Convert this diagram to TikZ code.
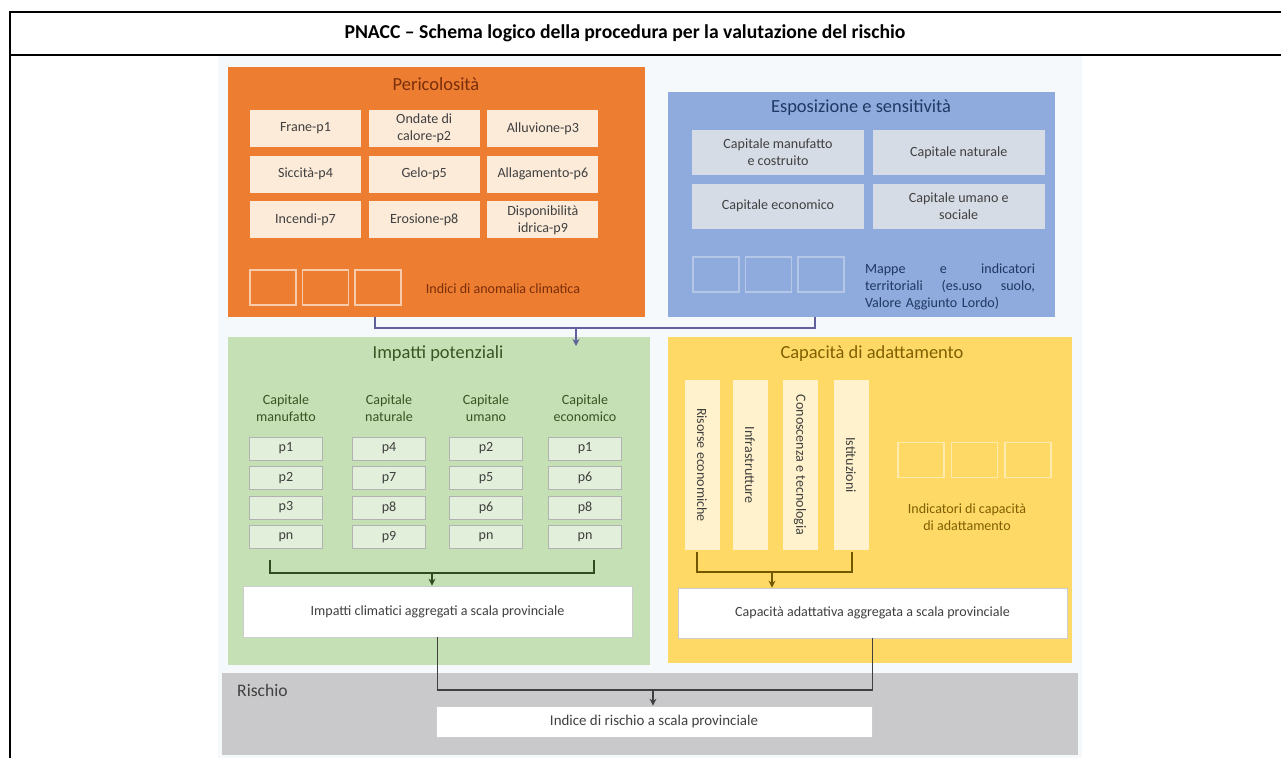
\documentclass[tikz,border=0pt]{standalone}
\usepackage{fontspec}
\setmainfont{Carlito}
\usetikzlibrary{arrows.meta,positioning,calc,fit}

\newcommand{\pxu}{0.02cm}
\definecolor{framebg}{HTML}{F5F9FC}
\definecolor{perfill}{HTML}{ED7D31}
\definecolor{percell}{HTML}{FCEBD9}
\definecolor{pertext}{HTML}{7A2E0B}
\definecolor{persq}{HTML}{F8CBAD}
\definecolor{espfill}{HTML}{8FAADC}
\definecolor{espcell}{HTML}{D6DCE6}
\definecolor{esptext}{HTML}{1F3864}
\definecolor{espsq}{HTML}{B4C7E7}
\definecolor{impfill}{HTML}{C5E0B4}
\definecolor{impcell}{HTML}{E2EFDA}
\definecolor{imptext}{HTML}{375623}
\definecolor{capfill}{HTML}{FFD966}
\definecolor{capcell}{HTML}{FFF2CC}
\definecolor{captext}{HTML}{7F6000}
\definecolor{rischfill}{HTML}{C9C9CB}
\definecolor{bodytext}{HTML}{404040}

\begin{document}
\begin{tikzpicture}[
  x=0.02cm, y=-0.02cm,
  >={Stealth[length=4pt,width=4pt]},
  panel/.style={inner sep=0pt, outer sep=0pt},
  ptitle/.style={font=\fontsize{10.5}{12}\selectfont},
  small/.style={font=\fontsize{8}{9.5}\selectfont, text=bodytext, align=center},
  percellbox/.style={small, fill=percell, inner sep=0pt, minimum width=111*\pxu, minimum height=37*\pxu},
  espcellbox/.style={small, fill=espcell, inner sep=0pt, minimum width=172*\pxu, minimum height=45*\pxu},
  pcell/.style={small, fill=impcell, draw=gray!60, inner sep=0pt, minimum width=73*\pxu, minimum height=23*\pxu},
  barbox/.style={small, fill=capcell, inner sep=0pt, rotate=-90, minimum width=170*\pxu, minimum height=35*\pxu},
  sqbox/.style={draw, line width=0.8pt, inner sep=0pt, minimum width=46*\pxu, minimum height=35*\pxu},
  aggbox/.style={small, fill=white, draw=gray!40, inner sep=0pt},
  topwire/.style={draw=blue!25!gray, line width=0.9pt},
  grwire/.style={draw=imptext!90!black, line width=0.9pt},
  capwire/.style={draw=captext!90!black, line width=0.9pt},
  rwire/.style={draw=bodytext, line width=0.9pt},
]
\useasboundingbox (0,0) rectangle (1281,758);

% title row
\draw[line width=1.2pt] (10,758) -- (10,12) -- (1281,12);
\draw[line width=1.2pt] (10,55) -- (1281,55);
\node[font=\bfseries\fontsize{11.2}{13}\selectfont] (title) at (625,33) {PNACC – Schema logico della procedura per la valutazione del rischio};
\fill[framebg] (218,56) rectangle (1082,758);

% Pericolosita
\node[panel, fill=perfill, fit={(228,67) (645,317)}] (peric) {};
\node[ptitle, text=pertext] (pertitle) at (436,84) {Pericolosità};
\node[percellbox] (fra) at (305.5,128.5) {Frane-p1};
\node[percellbox, right=0.14cm of fra] (ond) {Ondate di\\calore-p2};
\node[percellbox, right=0.14cm of ond] (all) {Alluvione-p3};
\node[percellbox, below=0.16cm of fra] (sic) {Siccità-p4};
\node[percellbox, below=0.16cm of ond] (gel) {Gelo-p5};
\node[percellbox, below=0.16cm of all] (alg) {Allagamento-p6};
\node[percellbox, below=0.16cm of sic] (inc) {Incendi-p7};
\node[percellbox, below=0.16cm of gel] (ero) {Erosione-p8};
\node[percellbox, below=0.16cm of alg] (dis) {Disponibilità\\idrica-p9};
\node[sqbox, draw=persq] (persq1) at (273,287.5) {};
\node[sqbox, draw=persq, right=0.1cm of persq1] (persq2) {};
\node[sqbox, draw=persq, right=0.1cm of persq2] (persq3) {};
\node[small, text=pertext] (anom) at (503,289) {Indici di anomalia climatica};

% Esposizione e sensitivita
\node[panel, fill=espfill, fit={(668,92) (1055,317)}] (espo) {};
\node[ptitle, text=esptext] (esptitle) at (861,108) {Esposizione e sensitività};
\node[espcellbox] (cman) at (778,152.5) {Capitale manufatto\\e costruito};
\node[espcellbox, right=0.16cm of cman] (cnat) {Capitale naturale};
\node[espcellbox, below=0.16cm of cman] (ceco) {Capitale economico};
\node[espcellbox, below=0.16cm of cnat] (cuma) {Capitale umano e\\sociale};
\node[sqbox, draw=espsq] (espsq1) at (716,274.5) {};
\node[sqbox, draw=espsq, right=0.1cm of espsq1] (espsq2) {};
\node[sqbox, draw=espsq, right=0.1cm of espsq2] (espsq3) {};
\node[small, text=esptext, text width=3.4cm, align=left] (mappe) at (950,287) {Mappe \hfill e \hfill indicatori\\territoriali \hfill (es.uso \hfill suolo,\\Valore Aggiunto Lordo)};

% Impatti potenziali
\node[panel, fill=impfill, fit={(228,337) (650,665)}] (impa) {};
\node[ptitle, text=imptext] (imptitle) at (438,354) {Impatti potenziali};
\node[small, text=imptext] (hman) at (286,408) {Capitale\\manufatto};
\node[small, text=imptext] (hnat) at (389,408) {Capitale\\naturale};
\node[small, text=imptext] (huma) at (486,408) {Capitale\\umano};
\node[small, text=imptext] (heco) at (585,408) {Capitale\\economico};
\foreach \lab [count=\r] in {p1,p2,p3,pn} \node[pcell] (ma\r) at (286,{419+29.5*\r}) {\lab};
\foreach \lab [count=\r] in {p4,p7,p8,p9} \node[pcell] (na\r) at (389,{419+29.5*\r}) {\lab};
\foreach \lab [count=\r] in {p2,p5,p6,pn} \node[pcell] (um\r) at (486,{419+29.5*\r}) {\lab};
\foreach \lab [count=\r] in {p1,p6,p8,pn} \node[pcell] (ec\r) at (585,{419+29.5*\r}) {\lab};
\node[aggbox, minimum width=389*\pxu, minimum height=51*\pxu] (impagg) at (437.5,611.5) {Impatti climatici aggregati a scala provinciale};

% Capacita di adattamento
\node[panel, fill=capfill, fit={(668,337) (1072,663)}] (capa) {};
\node[ptitle, text=captext] (captitle) at (872,354) {Capacità di adattamento};
\node[barbox] (riso) at (702,465) {Risorse economiche};
\node[barbox] (infr) at (750,465) {Infrastrutture};
\node[barbox] (cono) at (800,465) {Conoscenza e tecnologia};
\node[barbox] (isti) at (851,465) {Istituzioni};
\node[sqbox, draw=capcell!70!capfill] (capsq1) at (921,460) {};
\node[sqbox, draw=capcell!70!capfill, right=0.12cm of capsq1] (capsq2) {};
\node[sqbox, draw=capcell!70!capfill, right=0.12cm of capsq2] (capsq3) {};
\node[small, text=captext] (indcap) at (967,517) {Indicatori di capacità\\di adattamento};
\node[aggbox, minimum width=389*\pxu, minimum height=50*\pxu] (capagg) at (872.5,613) {Capacità adattativa aggregata a scala provinciale};

% Rischio
\node[panel, fill=rischfill, fit={(222,673) (1078,755)}] (risch) {};
\node[anchor=west, text=bodytext, font=\fontsize{10}{12}\selectfont] (rischlab) at (231,690) {Rischio};
\node[aggbox, font=\fontsize{8.5}{10}\selectfont, minimum width=436*\pxu, minimum height=31*\pxu] (rischagg) at (654,721.5) {Indice di rischio a scala provinciale};

% connectors
\coordinate (perout) at (375,317);
\coordinate (espout) at (815,317);
\coordinate (topj) at (576,328);
\draw[topwire] (perout) |- (topj) -| (espout);
\draw[topwire, ->] (topj) -- (576,346);

\coordinate (grl) at (270,560);
\coordinate (grr) at (594,560);
\coordinate (grj) at (432,573);
\draw[grwire] (grl) |- (grj) -| (grr);
\draw[grwire, ->] (grj) -- (grj |- impagg.north);

\coordinate (cpl) at (697,552);
\coordinate (cpr) at (852,552);
\coordinate (cpj) at (772,572);
\draw[capwire] (cpl) |- (cpj) -| (cpr);
\draw[capwire, ->] (cpj) -- (cpj |- capagg.north);

\coordinate (rj) at (653,690);
\draw[rwire] (impagg.south) |- (rj) -| (capagg.south);
\draw[rwire, ->] (rj) -- (rj |- rischagg.north);

\end{tikzpicture}
\end{document}
